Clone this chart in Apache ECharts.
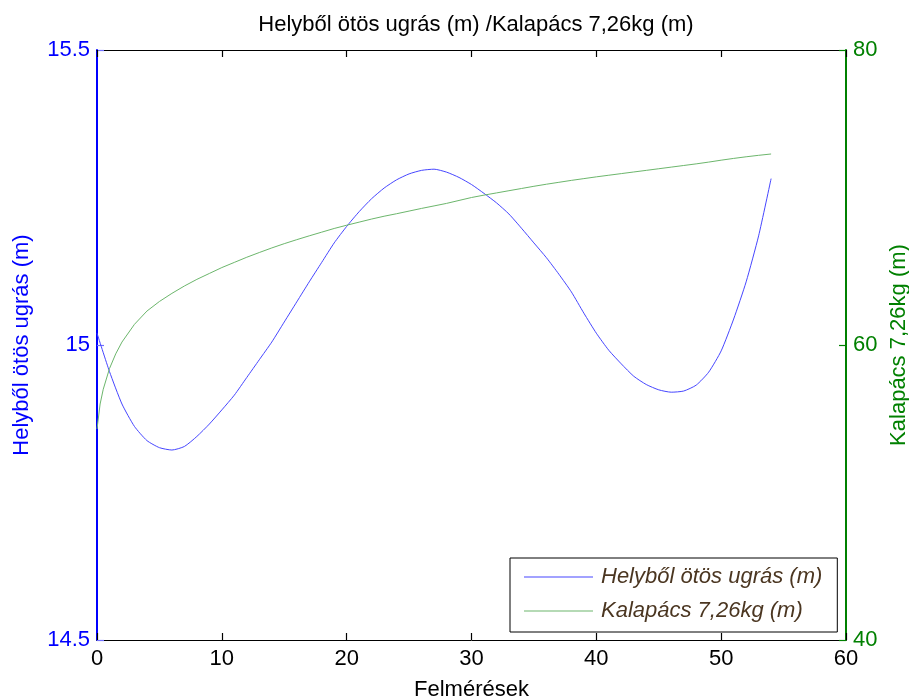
<!DOCTYPE html>
<html>
<head>
<meta charset="utf-8">
<title>Helyből ötös ugrás / Kalapács</title>
<script src="https://cdn.jsdelivr.net/npm/echarts@6/dist/echarts.min.js"></script>
<style>
  html, body { margin: 0; padding: 0; background: #ffffff; }
  #chart { width: 909px; height: 700px; }
</style>
</head>
<body>
<div id="chart"></div>
<script>
// Survey index (Felmérések) and standing five-jump results (m)
const jumpX = [0,1,2,3,4,5,6,7,8,9,10,11,12,13,14,15,16,17,18,19,20,21,22,23,24,25,26,27,28,29,30,31,32,33,34,35,36,37,38,39,40,41,42,43,44,45,46,47,48,49,50,51,52,53,54];
const jumpM = [15.020,14.955,14.900,14.862,14.838,14.826,14.822,14.828,14.845,14.866,14.890,14.915,14.945,14.975,15.005,15.039,15.073,15.107,15.140,15.173,15.201,15.226,15.248,15.266,15.280,15.290,15.296,15.298,15.293,15.284,15.272,15.257,15.241,15.222,15.198,15.173,15.148,15.120,15.090,15.054,15.020,14.991,14.968,14.947,14.933,14.924,14.920,14.922,14.932,14.954,14.990,15.044,15.107,15.185,15.282];

// Hammer throw 7.26 kg results (m)
const hammerX = [0,0.25,0.5,1,1.5,2,3,4,5,6,7,8,9,10,11,12,13,14,15,16,17,18,19,20,21,22,23,24,25,26,27,28,29,30,31,32,33,34,35,36,37,38,39,40,41,42,43,44,45,46,47,48,49,50,51,52,53,54];
const hammerM = [54.3,56.0,57.0,58.4,59.4,60.2,61.4,62.3,62.95,63.5,64.0,64.45,64.85,65.25,65.6,65.95,66.27,66.58,66.87,67.14,67.4,67.65,67.9,68.12,68.33,68.54,68.73,68.9,69.08,69.26,69.43,69.6,69.8,70.0,70.16,70.31,70.46,70.61,70.76,70.9,71.03,71.16,71.28,71.4,71.51,71.62,71.73,71.84,71.95,72.06,72.17,72.28,72.4,72.53,72.65,72.76,72.86,72.95];

// Axis ranges and tick steps
const xRange = [0, 60], xStep = 10;
const leftRange = [14.5, 15.5], leftStep = 0.5;
const rightRange = [40, 80], rightStep = 20;

const titleText = 'Helyből ötös ugrás (m) /Kalapács 7,26kg (m)';
const jumpName = 'Helyből ötös ugrás (m)';
const hammerName = 'Kalapács 7,26kg (m)';
const xName = 'Felmérések';

const FONT = '"Liberation Sans", Arial, sans-serif';
const BLUE = '#0000ff', GREEN = '#008000';
const JUMP_LINE = '#4646ff', HAMMER_LINE = '#6cb66c';

const chart = echarts.init(document.getElementById('chart'), null, { renderer: 'canvas' });

function pairs(xs, ys) { return xs.map((x, i) => [x, ys[i]]); }

// Inward-pointing ticks on every side of the box
function ticks(color) {
  return { show: true, inside: true, length: 7, lineStyle: { color: color, width: 1.2 } };
}

chart.setOption({
  animation: false,
  backgroundColor: '#ffffff',
  title: {
    text: titleText,
    left: 471, textAlign: 'center', top: 9,
    textStyle: { fontFamily: FONT, fontSize: 22, fontWeight: 'normal', color: '#000000' }
  },
  grid: { left: 97, right: 63, top: 50, bottom: 60, containLabel: false, outerBoundsMode: 'none' },
  legend: {
    orient: 'vertical',
    left: 510, top: 558,
    padding: [6, 15, 8, 14],
    icon: 'rect',
    itemWidth: 69, itemHeight: 1, itemGap: 8,
    backgroundColor: '#ffffff',
    borderColor: '#000000', borderWidth: 1,
    textStyle: { fontFamily: FONT, fontSize: 22, fontStyle: 'italic', color: '#4b3621', lineHeight: 26, padding: [0, 0, 0, 3] },
    data: [jumpName, hammerName]
  },
  xAxis: [
    {
      type: 'value', position: 'bottom', min: xRange[0], max: xRange[1], interval: xStep,
      name: xName, nameLocation: 'middle', nameGap: 39,
      nameTextStyle: { fontFamily: FONT, fontSize: 22, color: '#000000' },
      axisLine: { show: true, onZero: false, lineStyle: { color: '#000000', width: 1 } },
      axisTick: ticks('#000000'),
      axisLabel: { fontFamily: FONT, fontSize: 22, color: '#000000', margin: 8 },
      splitLine: { show: false }
    },
    {
      type: 'value', position: 'top', min: xRange[0], max: xRange[1], interval: xStep,
      axisLine: { show: true, onZero: false, lineStyle: { color: '#000000', width: 1 } },
      axisTick: ticks('#000000'),
      axisLabel: { show: false },
      splitLine: { show: false }
    }
  ],
  yAxis: [
    {
      type: 'value', position: 'left', min: leftRange[0], max: leftRange[1], interval: leftStep,
      name: jumpName, nameLocation: 'middle', nameGap: 64, nameRotate: 90,
      nameTextStyle: { fontFamily: FONT, fontSize: 22, color: BLUE },
      axisLine: { show: true, onZero: false, lineStyle: { color: BLUE, width: 2 } },
      axisTick: ticks('#7070ff'),
      axisLabel: { fontFamily: FONT, fontSize: 22, color: BLUE, margin: 7 },
      splitLine: { show: false }
    },
    {
      type: 'value', position: 'right', min: rightRange[0], max: rightRange[1], interval: rightStep,
      name: hammerName, nameLocation: 'middle', nameGap: 32, nameRotate: 90,
      nameTextStyle: { fontFamily: FONT, fontSize: 22, color: GREEN },
      axisLine: { show: true, onZero: false, lineStyle: { color: GREEN, width: 2 } },
      axisTick: ticks(GREEN),
      axisLabel: { fontFamily: FONT, fontSize: 22, color: GREEN, margin: 7 },
      splitLine: { show: false }
    }
  ],
  series: [
    {
      name: jumpName, type: 'line', xAxisIndex: 0, yAxisIndex: 0,
      data: pairs(jumpX, jumpM),
      symbol: 'none', smooth: 0.2,
      color: JUMP_LINE,
      lineStyle: { color: JUMP_LINE, width: 1 }
    },
    {
      name: hammerName, type: 'line', xAxisIndex: 0, yAxisIndex: 1,
      data: pairs(hammerX, hammerM),
      symbol: 'none', smooth: false,
      color: HAMMER_LINE,
      lineStyle: { color: HAMMER_LINE, width: 1 }
    }
  ]
});
</script>
</body>
</html>
